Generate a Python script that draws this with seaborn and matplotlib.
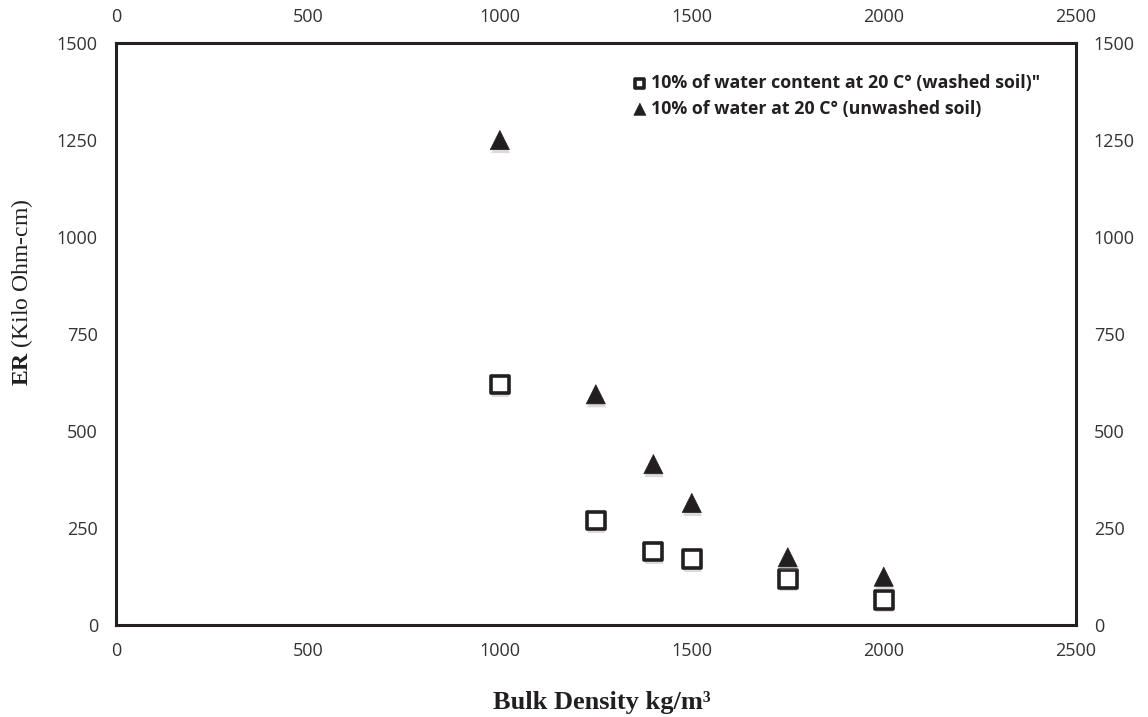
import matplotlib
matplotlib.use("Agg")
import matplotlib.pyplot as plt
import matplotlib.patheffects as pe
import seaborn as sns
import pandas as pd

density = [1000, 1250, 1400, 1500, 1750, 2000]
washed = [620, 270, 190, 170, 120, 65]
unwashed = [1250, 595, 415, 315, 175, 125]
label_washed = '10% of water content at 20 C° (washed soil)"'
label_unwashed = "10% of water at 20 C° (unwashed soil)"
x_ticks = [0, 500, 1000, 1500, 2000, 2500]
y_ticks = [0, 250, 500, 750, 1000, 1250, 1500]

df = pd.DataFrame({
    "density": density * 2,
    "er": washed + unwashed,
    "series": [label_washed] * len(density) + [label_unwashed] * len(density),
})

sns.set_style("white")
plt.rcParams["font.family"] = ["Open Sans", "DejaVu Sans"]
plt.rcParams["mathtext.fontset"] = "custom"
plt.rcParams["mathtext.rm"] = "Liberation Serif"
plt.rcParams["mathtext.bf"] = "Liberation Serif:bold"

fig = plt.figure(figsize=(11.48, 7.17), dpi=100)
ax = fig.add_axes([0.101, 0.128, 0.836, 0.812])

shadow = [pe.SimplePatchShadow(offset=(0.5, -2.5), shadow_rgbFace="#888888", alpha=0.3), pe.Normal()]

sns.scatterplot(data=df[df.series == label_washed], x="density", y="er", marker="s",
                s=165, facecolor="white", edgecolor="#231f20", linewidth=2.6, ax=ax,
                label=label_washed, zorder=3)
sns.scatterplot(data=df[df.series == label_unwashed], x="density", y="er", marker="^",
                s=190, color="#231f20", edgecolor="#231f20", linewidth=0.5, ax=ax,
                label=label_unwashed, zorder=3)
for coll in ax.collections:
    coll.set_path_effects(shadow)

ax.set_xlim(0, 2500)
ax.set_ylim(0, 1500)
ax.set_xticks(x_ticks)
ax.set_yticks(y_ticks)
ax.tick_params(axis="both", which="both", direction="in", length=5, width=1.5, color="#231f20",
               labelsize=13, labelcolor="#333333",
               top=True, right=True, labeltop=True, labelright=True)
ax.tick_params(axis="x", top=False)
ax.tick_params(axis="y", right=False)
ax.tick_params(axis="x", which="major", pad=12)
ax.tick_params(axis="y", which="major", pad=13)
for sp in ax.spines.values():
    sp.set_linewidth(2.2)
    sp.set_color("#231f20")

ax.set_xlabel("")
ax.set_ylabel("")
fig.text(602 / 1148, 1 - 703 / 717, "Bulk Density kg/m³", fontfamily="Liberation Serif",
         fontweight="bold", fontsize=19, color="#231f20", ha="center", va="center")
fig.text(22 / 1148, 1 - 292 / 717, r"$\mathbf{ER}$ (Kilo Ohm-cm)", fontfamily="Liberation Serif",
         fontsize=17, color="#231f20", ha="center", va="center", rotation=90)

leg = ax.legend(loc="upper left", bbox_to_anchor=(0.5385, 0.946), frameon=False, borderpad=0,
                borderaxespad=0,
                prop={"family": "Open Sans", "weight": "bold", "size": 12.8},
                handletextpad=0.2, labelspacing=0.42, handlelength=0.8, markerscale=0.5)
for t in leg.get_texts():
    t.set_color("#231f20")
for h in leg.legend_handles:
    h.set_path_effects([pe.Normal()])
leg.legend_handles[1].set_sizes([75])

fig.savefig("out.png", dpi=100)
